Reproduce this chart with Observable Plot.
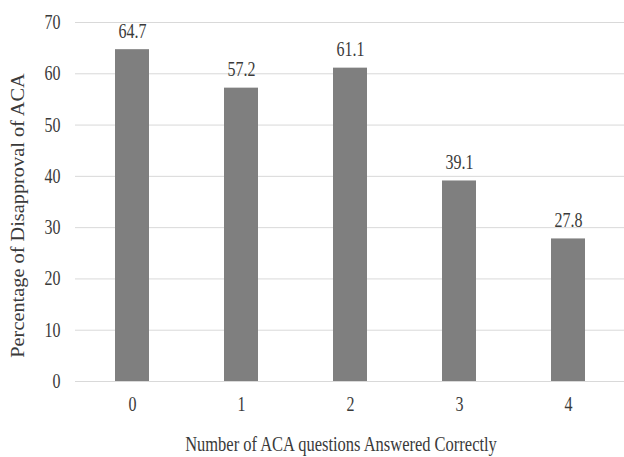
<!DOCTYPE html>
<html>
<head>
<meta charset="utf-8">
<script src="https://cdn.jsdelivr.net/npm/d3@7"></script>
<script src="https://cdn.jsdelivr.net/npm/@observablehq/plot@0.6"></script>
<style>
  html, body { margin: 0; padding: 0; background: #fff; }
  #chart svg { display: block; }
  #chart svg, #chart svg text { font-family: "Liberation Serif", "Times New Roman", serif !important; }
</style>
</head>
<body>
<div id="chart"></div>
<script>
const categories = ["0", "1", "2", "3", "4"];
const values = [64.7, 57.2, 61.1, 39.1, 27.8];
const yTicks = [0, 10, 20, 30, 40, 50, 60, 70];
const xTitle = "Number of ACA questions Answered Correctly";
const yTitle = "Percentage of Disapproval of ACA";

const data = categories.map((c, i) => ({ cat: c, value: values[i] }));
const textColor = "#3a3a3a";
const ff = "Liberation Serif";

const chart = Plot.plot({
  width: 624,
  height: 457,
  marginLeft: 75,
  marginRight: 0,
  marginTop: 22,
  marginBottom: 76,
  style: { fontFamily: ff, fontSize: "16px", color: textColor, background: "#fff" },
  x: { domain: categories, paddingInner: 0.69, paddingOuter: 0.345, label: null },
  y: { domain: [0, 70], ticks: yTicks, label: null },
  marks: [
    Plot.gridY(yTicks, { stroke: "#d9d9d9", strokeOpacity: 1, strokeWidth: 1 }),
    Plot.axisY(yTicks, { tickSize: 0, tickPadding: 15, fontSize: 16, fill: textColor, label: null }),
    Plot.axisX({ tickSize: 0, tickPadding: 17, fontSize: 16, fill: textColor, label: null }),
    Plot.barY(data, { x: "cat", y: "value", fill: "#7f7f7f" }),
    Plot.text(data, { x: "cat", y: "value", text: d => d.value.toFixed(1), dy: -18.5, fontSize: 16, fill: textColor }),
    Plot.text([xTitle], { frameAnchor: "bottom", lineAnchor: "middle", textAnchor: "middle", dx: -9, dy: 63, fontSize: 16.5, fill: textColor }),
    Plot.text([yTitle], { frameAnchor: "left", lineAnchor: "middle", textAnchor: "middle", dx: -57.5, dy: 13.5, rotate: -90, fontSize: 18, fill: textColor })
  ]
});
document.getElementById("chart").appendChild(chart);

// Reference text is drawn slightly tall and narrow: stretch each label about its own centre.
d3.select(chart).selectAll("text").each(function () {
  const t = this.getAttribute("transform") || "";
  const rotated = /rotate/.test(t);
  const b = this.getBBox();
  const cx = b.x + b.width / 2, cy = b.y + b.height / 2;
  const s = rotated ? "scale(1.13,1)" : "scale(1,1.25)";
  this.setAttribute("transform", `${t} translate(${cx},${cy}) ${s} translate(${-cx},${-cy})`.trim());
});
</script>
</body>
</html>
